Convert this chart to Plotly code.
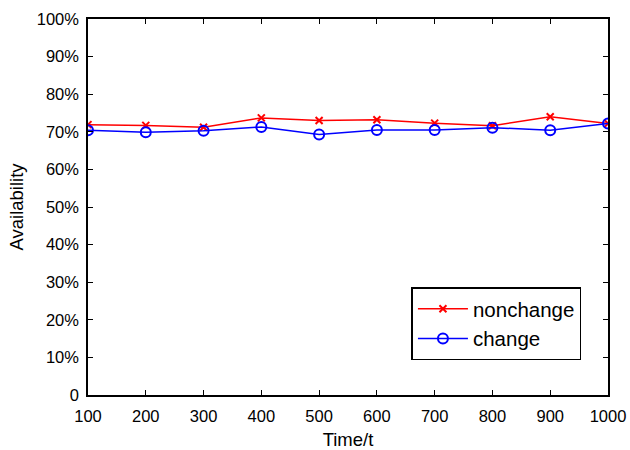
import plotly.graph_objects as go

time_t = [100, 200, 300, 400, 500, 600, 700, 800, 900, 1000]
nonchange = [71.9, 71.7, 71.2, 73.7, 73.0, 73.2, 72.3, 71.6, 74.0, 72.2]
change = [70.4, 69.9, 70.3, 71.3, 69.3, 70.5, 70.5, 71.1, 70.4, 72.2]
y_tickvals = [0, 10, 20, 30, 40, 50, 60, 70, 80, 90, 100]
y_ticktext = ["0", "10%", "20%", "30%", "40%", "50%", "60%", "70%", "80%", "90%", "100%"]
x_tickvals = [100, 200, 300, 400, 500, 600, 700, 800, 900, 1000]

FONT = "Liberation Sans, Arial, Helvetica, sans-serif"

fig = go.Figure()
fig.add_trace(go.Scatter(
    x=time_t, y=nonchange, name="nonchange", mode="lines+markers",
    line=dict(color="#ff0000", width=1.5),
    marker=dict(symbol="x-thin-open", size=7, line=dict(color="#ff0000", width=2), color="#ff0000"),
))
fig.add_trace(go.Scatter(
    x=time_t, y=change, name="change", mode="lines+markers",
    line=dict(color="#0000ff", width=1.5),
    marker=dict(symbol="circle-open", size=10, line=dict(color="#0000ff", width=2), color="#0000ff"),
))

axis_common = dict(
    showline=True, linecolor="black", linewidth=1.5, mirror="ticks",
    ticks="inside", ticklen=5, tickcolor="black", tickwidth=1,
    showgrid=False, zeroline=False, automargin=False,
    tickfont=dict(family=FONT, size=16.5, color="black"),
)

fig.update_layout(
    width=630, height=450,
    margin=dict(l=88, r=22, t=19, b=55),
    paper_bgcolor="white", plot_bgcolor="white",
    font=dict(family=FONT, size=16, color="black"),
    xaxis=dict(range=[100, 1000], tickvals=x_tickvals, ticklabelstandoff=5,
               title=dict(text="Time/t", standoff=10, font=dict(size=18.5)), **axis_common),
    yaxis=dict(range=[0, 100], tickvals=y_tickvals, ticktext=y_ticktext, ticklabelstandoff=4,
               title=dict(text="Availability", standoff=8, font=dict(size=18.5)), **axis_common),
    legend=dict(x=0.622, y=0.286, xanchor="left", yanchor="top",
                bordercolor="black", borderwidth=1.5, bgcolor="white",
                font=dict(size=20.5), tracegroupgap=0, itemwidth=50),
    showlegend=True,
)

fig.write_html("out.html", config={"displayModeBar": False},
               post_script="document.body.style.margin='0';document.body.style.overflow='hidden';")
